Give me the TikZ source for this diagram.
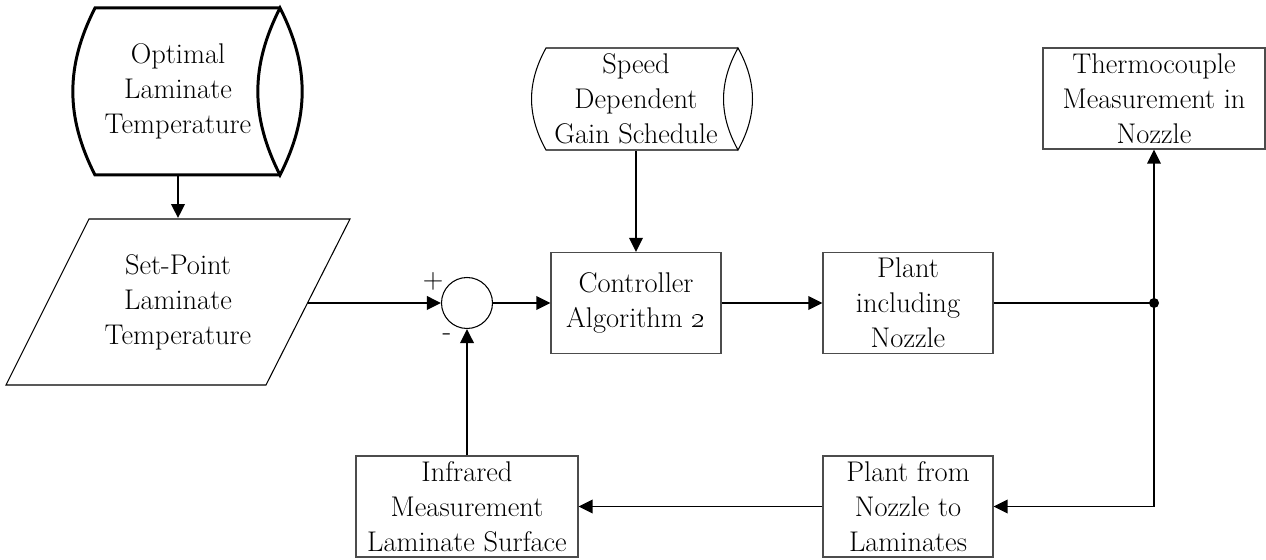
\documentclass[tikz,border=0pt]{standalone}
\usetikzlibrary{arrows.meta,calc}

\begin{document}
\begin{tikzpicture}[x=0.02cm,y=0.02cm,
    line width=1.1pt,>={Triangle[length=0.28cm,width=0.27cm]},
    txt/.style={align=center,font=\fontsize{16.2}{19.9}\selectfont,inner sep=0pt},
    block/.style={txt,draw=black!70,line width=0.7pt,minimum width=3.4cm,minimum height=2.02cm},
    wideblock/.style={block,minimum width=4.44cm}]
  \useasboundingbox (0,0) rectangle (1266,560);

  % storage drums
  \begin{scope}[line width=1.7pt]
    \draw (280,552) -- (95,552) to[bend right=27] (95,385) -- (280,385);
    \draw (280,552) to[bend right=27] (280,385) to[bend right=27] cycle;
  \end{scope}
  \node[txt,minimum height=3.34cm] (opt) at (178,468.5) {Optimal\\Laminate\\Temperature};

  \begin{scope}[line width=0.6pt]
    \draw (738,512) -- (546,512) to[bend right=29] (546,410) -- (738,410);
    \draw (738,512) to[bend right=29] (738,410) to[bend right=29] cycle;
  \end{scope}
  \node[txt,minimum height=2.04cm] (gain) at (636,461) {Speed\\Dependent\\Gain Schedule};

  % set-point input
  \coordinate (P1) at (6,175);
  \coordinate (P2) at (266,175);
  \coordinate (P3) at (350,341);
  \coordinate (P4) at (89,341);
  \draw[line width=0.6pt] (P1)--(P2)--(P3)--(P4)--cycle;
  \node[txt,minimum height=3.32cm] (setp) at (178,258) {Set-Point\\Laminate\\Temperature};
  \coordinate (setout) at ($(P2)!0.494!(P3)$);

  % loop
  \node[draw,line width=0.6pt,circle,minimum size=1.02cm,inner sep=0pt] (sum) at (467,257) {};
  \node[block] (ctrl) at (636,257) {Controller\\Algorithm \oldstylenums{2}};
  \node[block] (plant) at (908,257) {Plant\\including\\Nozzle};
  \node[wideblock] (tc) at (1154,461.5) {Thermocouple\\Measurement in\\Nozzle};
  \node[block] (pfn) at (908,53.5) {Plant from\\Nozzle to\\Laminates};
  \node[wideblock] (ir) at (467,53.5) {Infrared\\Measurement\\Laminate Surface};
  \coordinate (junc) at (1154,257);

  \node[txt] at (433,279) {+};
  \node[txt] at (447,223) {-};

  \draw[->] (opt.south) -- (setp.north);
  \draw[->] (setout) -- (sum.west);
  \draw[->] (sum.east) -- (ctrl.west);
  \draw[->] (gain.south) -- (ctrl.north);
  \draw[->] (ctrl.east) -- (plant.west);
  \draw (plant.east) -- (junc);
  \draw[->] (junc) -- (tc.south);
  \draw[->] (junc) |- (pfn.east);
  \draw[->] (pfn.west) -- (ir.east);
  \draw[->] (ir.north) -- (sum.south);
  \fill (junc) circle (0.1cm);
\end{tikzpicture}
\end{document}
